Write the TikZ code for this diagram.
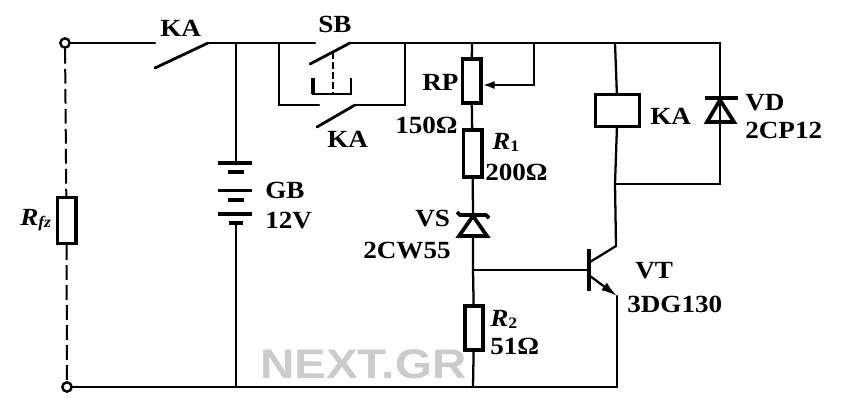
\documentclass[tikz,border=0pt]{standalone}
\usepackage{fontspec}
\usetikzlibrary{arrows.meta,positioning}
\setmainfont[FakeStretch=1.1]{Liberation Serif}
\newfontfamily\wmfont[FakeStretch=1.15]{Liberation Sans}
\tikzset{
  x=0.75pt,y=-0.75pt,
  wire/.style={line width=1.7pt,line cap=round},
  res/.style={draw,line width=2.5pt,fill=white,inner sep=0,rectangle},
  term/.style={circle,draw,line width=1.8pt,fill=white,minimum size=7pt,inner sep=0},
  blade/.style={line width=2.1pt,line cap=round},
  plate/.style={line width=2.4pt},
  lab/.style={anchor=base west,inner sep=0,font=\bfseries\fontsize{18.5}{20}\selectfont},
  dashwire/.style={line width=1.5pt,dash pattern=on 11pt off 4pt},
}
\newcommand{\subsc}[1]{\raisebox{-2pt}{\fontsize{12}{13}\selectfont #1}}
\begin{document}
\begin{tikzpicture}
\useasboundingbox (0,0) rectangle (855,417);
% junctions and free ends
\coordinate (ka1a) at (155,43);
\coordinate (ka1f) at (155,68);
\coordinate (ka1b) at (208,43);
\coordinate (jbat) at (236,43);
\coordinate (jsbl) at (279,43);
\coordinate (sba) at (315,43);
\coordinate (sbf) at (310,64);
\coordinate (sbb) at (350,43);
\coordinate (jsbr) at (405,43);
\coordinate (jrp) at (472,43);
\coordinate (jwip) at (534,43);
\coordinate (jrel) at (615,43);
\coordinate (jtr) at (720,43);
\coordinate (ka2a) at (279,105);
\coordinate (ka2c) at (319,105);
\coordinate (ka2f) at (317,127);
\coordinate (ka2b) at (355,105);
\coordinate (ka2d) at (405,105);
\coordinate (wipc) at (534,85);
\coordinate (jcoll) at (615,184);
\coordinate (jdio) at (720,184);
\coordinate (jbase) at (473,270);
\coordinate (colle) at (616,246);
\coordinate (colli) at (590,262);
\coordinate (emiti) at (590,276);
\coordinate (emite) at (617,296);
\coordinate (jbr2) at (473,387);
\coordinate (jbbat) at (236,387);
\coordinate (jbe) at (617,387);
\coordinate (bat1) at (236,163);
\coordinate (bat6) at (236,223);
\coordinate (vdt) at (720,98);
\coordinate (vdb) at (720,123);
\coordinate (vst) at (473,215);
\coordinate (vsb) at (473,237);
\coordinate (btop) at (589,249);
\coordinate (bbot) at (589,291);
\coordinate (bmid) at (589,270);
\coordinate (pbt) at (333,52);
\coordinate (pbm) at (333,94);
\coordinate (pbl) at (313,94);
\coordinate (pbr) at (351,94);
\coordinate (pbla) at (313,78);
\coordinate (pbra) at (351,78);
% watermark (under the wires)
\node[anchor=base west,inner sep=0,text=gray!40,font=\wmfont\bfseries\fontsize{31}{33}\selectfont] (wm) at (260,378) {NEXT.GR};
% terminals
\node[term] (t1) at (65,43) {};
\node[term] (t2) at (67,387) {};
% resistors and relay
\node[res,minimum width=14pt,minimum height=34.5pt] (rfz) at (66.5,220.5) {};
\node[res,minimum width=14pt,minimum height=33pt] (rp) at (471.5,81) {};
\node[res,minimum width=14pt,minimum height=35pt] (r1) at (472.5,153.5) {};
\node[res,minimum width=13.5pt,minimum height=33pt] (r2) at (474,328) {};
\node[res,minimum width=33pt,minimum height=24pt] (rel) at (617.5,110.5) {};
% wires
\draw[wire] (t1) -- (ka1a);
\draw[blade] (ka1f) -- (ka1b);
\draw[wire] (ka1b) -- (sba);
\draw[blade] (sbf) -- (sbb);
\draw[wire] (sbb) -- (jtr) -- (jdio) -- (jcoll);
\draw[wire] (jsbl) -- (ka2a) -- (ka2c);
\draw[blade] (ka2f) -- (ka2b);
\draw[wire] (ka2b) -- (ka2d) -- (jsbr);
\draw[wire] (jrp) -- (rp);
\draw[wire] (rp) -- (r1);
\draw[wire] (jwip) -- (wipc);
\draw[wire,-{Latex[length=9pt,width=6pt]}] (wipc) -- (wipc -| rp.east);
\draw[wire] (r1) -- (vst);
\draw[wire] (vsb) -- (jbase) -- (r2);
\draw[wire] (r2) -- (jbr2);
\draw[wire] (t2) -- (jbe) -- (emite);
\draw[wire] (jrel) -- (rel);
\draw[wire] (rel) -- (jcoll) -- (colle);
\draw[wire] (jtr) -- (vdt);
\draw[wire] (vdb) -- (jdio);
% battery
\draw[wire] (jbat) -- (bat1);
\draw[wire] (bat6) -- (jbbat);
\draw[plate] (218,163) -- (252,163);
\draw[plate] (228,172) -- (244,172);
\draw[plate] (218,190.5) -- (252,190.5);
\draw[plate] (228,200) -- (244,200);
\draw[plate] (218,214) -- (252,214);
\draw[plate] (229,223) -- (243,223);
% push button
\draw[line width=1.5pt,dash pattern=on 5pt off 2.5pt] (pbt) -- (pbm);
\draw[line width=1.7pt] (pbla) -- (pbl) -- (pbr) -- (pbra);
\draw[line width=2.8pt] (pbla) -- (pbl);
% load
\draw[dashwire] (t1) -- (rfz);
\draw[dashwire] (rfz) -- (t2);
% diode VD
\draw[line width=2.8pt,line join=miter] (720,100) -- (707,122) -- (734,122) -- cycle;
\draw[line width=2.8pt] (705,98) -- (738,98);
% zener VS
\draw[line width=2.8pt,line join=miter] (473,216) -- (459,236) -- (487,236) -- cycle;
\draw[line width=2.8pt] (457,212) -- (460,215) -- (486,215) -- (489,218);
% transistor
\draw[wire] (jbase) -- (bmid);
\draw[line width=2.8pt] (btop) -- (bbot);
\draw[wire] (colli) -- (colle);
\draw[wire,-{Latex[length=12pt,width=7pt]}] (emiti) -- (emite);
% labels
\node[lab] (lka1) at (160,37) {KA};
\node[lab] (lsb) at (318,33) {SB};
\node[lab] (lka2) at (327,147) {KA};
\node[lab] (lrp) at (422,91) {RP};
\node[lab] (l150) at (395,133) {150Ω};
\node[lab] (lr1) at (492,149) {\textit{R}\subsc{1}};
\node[lab] (l200) at (485,180) {200Ω};
\node[lab] (lka3) at (650,124) {KA};
\node[lab] (lvd) at (745,111) {VD};
\node[lab] (lcp) at (745,138) {2CP12};
\node[lab] (lgb) at (265,198) {GB};
\node[lab] (l12) at (265,228) {12V};
\node[lab] (lrfz) at (20,225) {\textit{R}\subsc{\textit{fz}}};
\node[lab] (lvs) at (415,226) {VS};
\node[lab] (l2cw) at (363,258) {2CW55};
\node[lab] (lvt) at (635,278) {VT};
\node[lab] (l3dg) at (627,312) {3DG130};
\node[lab] (lr2) at (490,326) {\textit{R}\subsc{2}};
\node[lab] (l51) at (490,354) {51Ω};
\end{tikzpicture}
\end{document}
